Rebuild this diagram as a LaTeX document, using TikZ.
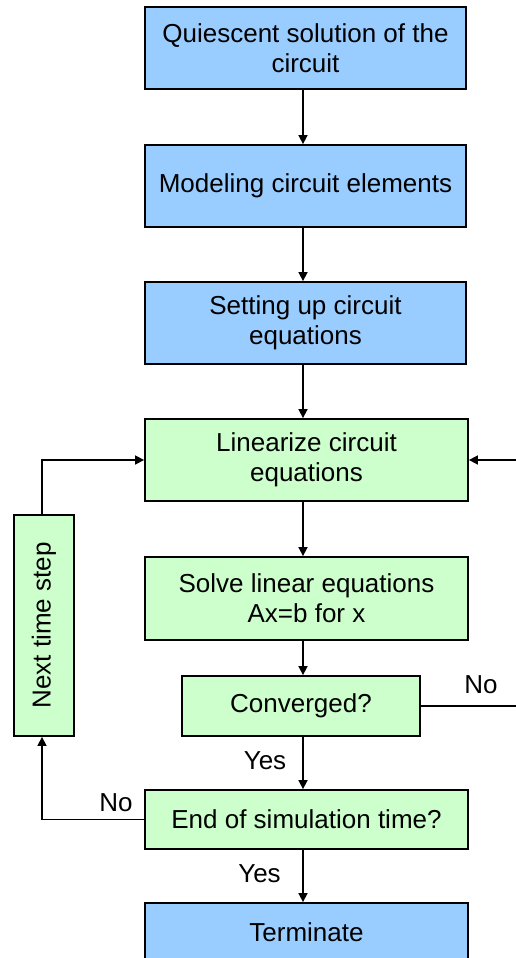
\documentclass[tikz,border=0pt]{standalone}
\usepackage{fontspec}
\setmainfont{Liberation Sans}
\usetikzlibrary{arrows.meta}
\definecolor{boxblue}{HTML}{99CCFF}
\definecolor{boxgreen}{HTML}{CCFFCC}
\begin{document}
\begin{tikzpicture}[x=1pt,y=-1pt,
  flowbox/.style={draw=black, line width=1.8pt, rectangle, align=center,
    inner sep=0pt, font=\fontsize{26}{30}\selectfont},
  bluebox/.style={flowbox, fill=boxblue},
  greenbox/.style={flowbox, fill=boxgreen},
  arr/.style={line width=1.6pt, -{Triangle[length=9pt,width=9pt]}},
  lbl/.style={inner sep=0pt, font=\fontsize{26}{30}\selectfont}]
\useasboundingbox (0,0) rectangle (516,958);
\clip (0,0) rectangle (516,958);

% process steps
\node[bluebox, minimum width=321, minimum height=82] (q) at (305.5,48)
  {Quiescent solution of the\\circuit};
\node[bluebox, minimum width=321, minimum height=82] (m) at (305.5,186)
  {Modeling circuit elements};
\node[bluebox, minimum width=321, minimum height=82] (s) at (305.5,323)
  {Setting up circuit\\equations};
\node[greenbox, minimum width=323, minimum height=82] (lin) at (306.5,460)
  {Linearize circuit\\equations};
\node[greenbox, minimum width=323, minimum height=83] (sol) at (306.5,598.5)
  {Solve linear equations\\Ax=b for x};
\node[greenbox, minimum width=238, minimum height=60] (conv) at (301,706)
  {Converged?};
\node[greenbox, minimum width=323, minimum height=59] (end) at (306.5,819.5)
  {End of simulation time?};
\node[bluebox, minimum width=323, minimum height=58] (term) at (306.5,932)
  {Terminate};
\node[greenbox, minimum width=60, minimum height=221] (next) at (44,625.5)
  {\rotatebox{90}{Next time step}};

% main flow
\coordinate (ax) at (303,0);
\draw[arr] (q.south -| ax) -- (m.north -| ax);
\draw[arr] (m.south -| ax) -- (s.north -| ax);
\draw[arr] (s.south -| ax) -- (lin.north -| ax);
\draw[arr] (lin.south -| ax) -- (sol.north -| ax);
\draw[arr] (sol.south -| ax) -- (conv.north -| ax);
\draw[arr] (conv.south -| ax) -- (end.north -| ax);
\draw[arr] (end.south -| ax) -- (term.north -| ax);

% loops
\coordinate (lx) at (42,0);
\coordinate (rx) at (522,0);
\draw[arr] (end.west) -- (end.west -| lx) -- (next.south -| lx);
\draw[arr] (next.north -| lx) -- (lx |- lin.west) -- (lin.west);
\draw[arr] (conv.east) -- (conv.east -| rx) -- (rx |- lin.east) -- (lin.east);

% branch labels
\node[lbl] (yes1) at (265,761) {Yes};
\node[lbl] (yes2) at (259.5,874) {Yes};
\node[lbl] (no1) at (481,684.5) {No};
\node[lbl] (no2) at (116,803) {No};
\end{tikzpicture}
\end{document}
